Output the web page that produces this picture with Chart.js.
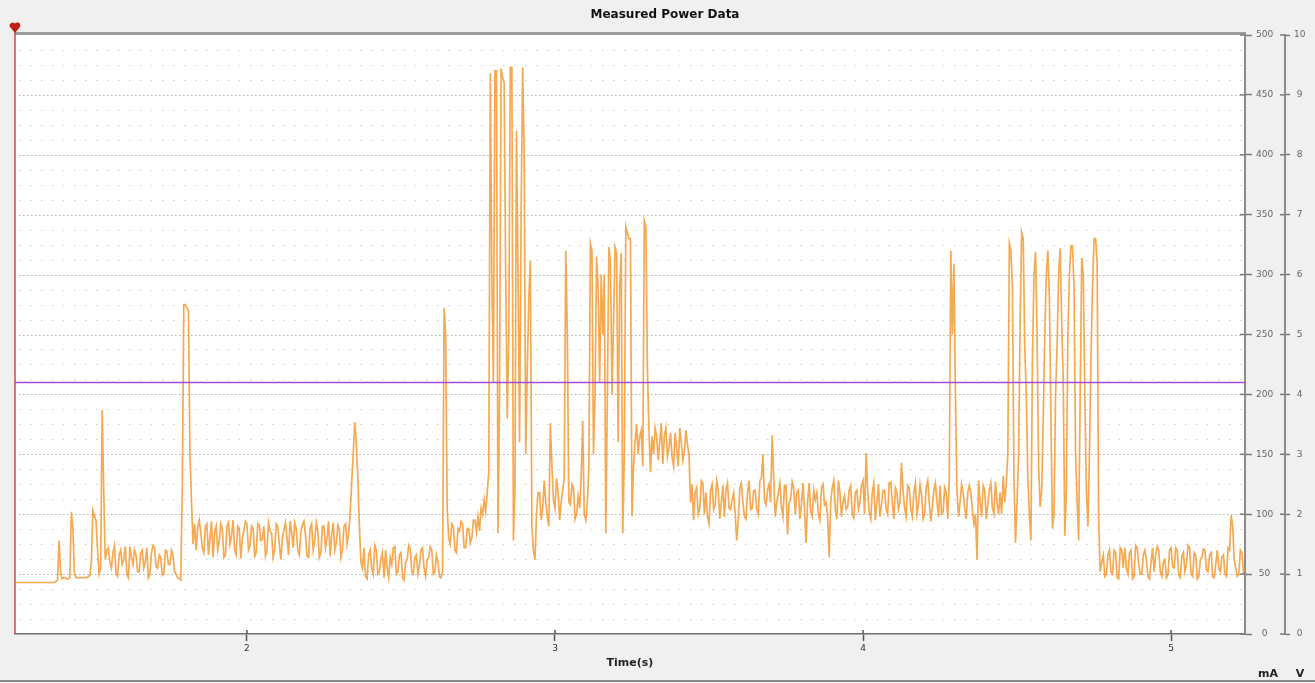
<!DOCTYPE html>
<html><head><meta charset="utf-8">
<script src="https://cdn.jsdelivr.net/npm/chart.js@4.4.0/dist/chart.umd.min.js"></script>
<style>html,body{margin:0;padding:0;background:#f0f0f0;overflow:hidden}#wrap{width:1315px;height:683px}</style>
</head><body><div id="wrap"><canvas id="c" width="1315" height="683"></canvas></div>
<script>
// ---- data ----
const sampleStart = 1.25;   // s, time of the first sample
const sampleStep = 0.005;   // s, sampling interval of the logger
const currentMA = [
43,43,43,43,43,43,43,43,43,43,43,43,43,43,43,43,43,43,43,43,
43,43,43,43,43,43,44,45,78,52,46,47,47,46,46,47,102,88,50,47,
47,47,47,47,47,47,47,48,49,60,103,98,95,70,50,55,187,120,62,70,
72,60,55,68,74,50,48,66,70,58,62,73,50,47,73,64,58,70,66,52,
52,68,70,55,60,72,47,50,68,74,72,56,55,66,64,49,50,70,69,58,
58,70,66,52,50,47,46,45,120,275,275,272,270,150,110,75,92,70,88,95,
85,72,68,90,92,66,80,94,64,85,90,70,78,92,88,64,66,90,93,75,
82,95,70,66,90,88,63,80,86,94,92,70,74,90,88,65,68,92,91,78,
79,90,65,70,93,86,84,64,70,92,90,75,62,80,87,93,80,66,94,85,
72,93,88,70,66,85,91,94,83,65,64,88,92,70,78,93,86,64,68,90,
90,72,80,94,65,82,93,70,76,91,88,64,70,90,92,75,84,100,127,150,
177,160,130,90,60,55,72,48,46,66,70,55,50,74,70,50,52,63,68,47,
70,55,47,64,58,72,73,50,52,66,68,47,45,60,62,74,71,52,50,64,
66,50,57,70,72,55,48,62,64,73,70,50,52,66,60,48,47,52,272,250,
105,80,75,92,90,70,68,88,86,94,92,72,72,88,88,76,80,95,95,85,
98,86,105,100,112,102,118,135,468,300,210,470,470,84,200,472,465,460,300,180,
250,473,473,78,120,420,300,160,350,473,400,150,220,280,312,90,70,62,100,118,
118,95,105,128,110,98,90,176,140,112,105,130,118,95,110,120,130,320,250,110,
108,125,122,96,100,115,105,130,178,100,95,110,140,326,320,150,200,315,290,210,
300,250,300,84,200,323,310,200,260,323,318,160,290,318,84,150,340,335,330,330,
98,140,160,175,150,165,170,140,345,340,223,170,135,165,150,172,165,145,160,176,
142,165,172,148,155,168,148,140,168,155,140,172,160,145,152,170,158,150,110,125,
95,118,122,100,105,128,126,100,118,98,92,120,125,104,108,128,120,96,110,124,
98,120,126,105,104,112,118,100,78,95,122,126,110,98,96,118,128,104,105,120,
120,104,100,128,130,150,112,108,120,125,110,166,130,98,110,118,126,106,98,124,
124,83,110,112,127,122,100,118,120,96,108,126,104,76,110,126,102,98,120,112,
118,100,95,122,125,108,110,98,64,110,122,128,104,96,128,118,98,110,115,104,
106,120,124,100,97,118,120,104,110,124,128,100,151,120,102,96,118,126,95,110,
125,98,108,120,120,104,100,126,127,110,96,122,118,104,110,143,120,105,98,124,
122,104,98,118,126,100,108,125,116,96,100,122,128,110,94,106,120,126,110,98,
124,100,102,122,118,96,130,320,250,309,200,120,98,110,125,118,105,96,118,124,
118,104,92,100,62,128,110,98,124,120,96,108,120,126,105,100,127,110,100,118,
100,132,110,125,150,326,320,290,130,76,110,150,260,335,330,240,200,130,100,78,
230,300,319,250,140,106,120,180,250,300,320,280,180,88,100,200,240,300,322,260,
210,82,120,250,300,324,324,290,150,110,78,200,314,300,200,120,90,150,230,290,
330,330,310,95,52,60,66,48,50,66,70,52,50,70,68,47,46,72,70,55,
72,55,50,68,70,46,48,74,72,58,50,50,66,70,62,48,46,60,72,52,
66,73,70,52,48,60,62,47,50,70,72,56,55,72,70,49,47,65,68,52,
58,74,72,50,48,68,66,46,48,62,64,71,70,53,52,66,68,48,47,58,
70,55,52,64,66,50,48,72,70,99,90,62,55,48,50,70,68,52,55,60
];
const thresholdTimes = [1.247, 5.24];
const thresholdMA = [210, 210];
const timeRange = [1.247, 5.24];
const xTicks = [2, 3, 4, 5];
const mATicks = [0, 50, 100, 150, 200, 250, 300, 350, 400, 450, 500];
const vTicks = [0, 1, 2, 3, 4, 5, 6, 7, 8, 9, 10];
const minorGridStep = 12.5; // mA
const cursorTime = 1.247;

const FONT = "'DejaVu Sans', Verdana, sans-serif";

const currentPoints = currentMA.map((v, i) => ({x: sampleStart + i * sampleStep, y: v}));
const thresholdPoints = thresholdTimes.map((t, i) => ({x: t, y: thresholdMA[i]}));

const decor = {
  id: 'decor',
  beforeDraw(chart) {
    const {ctx, chartArea: a} = chart;
    ctx.save();
    ctx.fillStyle = '#f0f0f0';
    ctx.fillRect(0, 0, chart.width, chart.height);
    ctx.fillStyle = '#ffffff';
    ctx.fillRect(a.left, a.top, a.right - a.left, a.bottom - a.top);
    ctx.restore();
  },
  beforeDatasetsDraw(chart) {
    const {ctx, chartArea: a} = chart;
    const ys = chart.scales.mA;
    ctx.save();
    ctx.lineWidth = 1;
    for (let v = minorGridStep; v < ys.max; v += minorGridStep) {
      const y = Math.round(ys.getPixelForValue(v)) + 0.5;
      const major = Math.abs(v % 50) < 1e-6;
      ctx.strokeStyle = major ? '#b2b2b2' : '#d0d0d0';
      ctx.setLineDash(major ? [1.6, 2.4] : [1.5, 9.5]);
      ctx.beginPath();
      ctx.moveTo(a.left + 4, y);
      ctx.lineTo(a.right - 2, y);
      ctx.stroke();
    }
    ctx.restore();
  },
  afterDraw(chart) {
    const {ctx, chartArea: a, scales} = chart;
    ctx.save();
    // top frame
    ctx.strokeStyle = '#9c9c9c';
    ctx.lineWidth = 3;
    ctx.beginPath(); ctx.moveTo(a.left, a.top - 1.5); ctx.lineTo(a.right + 1, a.top - 1.5); ctx.stroke();
    // inner halves of tick marks
    ctx.lineWidth = 1.5;
    ctx.strokeStyle = '#7a7a7a';
    mATicks.forEach(v => {
      const y = scales.mA.getPixelForValue(v);
      ctx.beginPath(); ctx.moveTo(a.right - 5, y); ctx.lineTo(a.right, y); ctx.stroke();
    });
    const vx = scales.V.left;
    vTicks.forEach(v => {
      const y = scales.V.getPixelForValue(v);
      ctx.beginPath(); ctx.moveTo(vx - 5, y); ctx.lineTo(vx, y); ctx.stroke();
    });
    ctx.strokeStyle = '#555';
    xTicks.forEach(v => {
      const x = scales.x.getPixelForValue(v);
      ctx.beginPath(); ctx.moveTo(x, a.bottom - 4); ctx.lineTo(x, a.bottom); ctx.stroke();
    });
    // cursor line and marker
    const cx = scales.x.getPixelForValue(cursorTime);
    ctx.strokeStyle = '#d04a4a';
    ctx.lineWidth = 1.5;
    ctx.beginPath(); ctx.moveTo(cx, a.top - 6); ctx.lineTo(cx, a.bottom); ctx.stroke();
    ctx.fillStyle = '#c21f1a';
    ctx.beginPath();
    ctx.arc(cx - 2.4, a.top - 9.5, 2.9, Math.PI * 0.8, Math.PI * 2);
    ctx.arc(cx + 2.4, a.top - 9.5, 2.9, Math.PI, Math.PI * 0.2);
    ctx.lineTo(cx, a.top - 2);
    ctx.closePath();
    ctx.fill();
    // unit captions
    ctx.fillStyle = '#222';
    ctx.font = "bold 11px " + FONT;
    ctx.textAlign = 'center';
    ctx.textBaseline = 'middle';
    ctx.fillText('mA', 1268, 674);
    ctx.fillText('V', 1300, 674);
    // bottom frame line
    ctx.strokeStyle = '#8a8a8a';
    ctx.lineWidth = 2;
    ctx.beginPath(); ctx.moveTo(0, 681); ctx.lineTo(chart.width, 681); ctx.stroke();
    ctx.restore();
  }
};

new Chart(document.getElementById('c'), {
  type: 'line',
  data: {
    datasets: [
      {
        label: 'Threshold',
        data: thresholdPoints,
        borderColor: '#a54bd6',
        borderWidth: 1.5,
        pointRadius: 0,
        yAxisID: 'mA',
        order: 0
      },
      {
        label: 'Current',
        data: currentPoints,
        borderColor: 'rgba(242,148,38,0.8)',
        borderWidth: 1.7,
        pointRadius: 0,
        tension: 0,
        yAxisID: 'mA',
        order: 1
      }
    ]
  },
  options: {
    responsive: false,
    animation: false,
    events: [],
    layout: {padding: {left: 15, right: 0, top: 0, bottom: 0}},
    plugins: {
      legend: {display: false},
      tooltip: {enabled: false},
      title: {
        display: true,
        text: 'Measured Power Data',
        color: '#111',
        font: {family: FONT, size: 12, weight: 'bold'},
        padding: {top: 8, bottom: 12.6}
      }
    },
    scales: {
      x: {
        type: 'linear',
        position: 'bottom',
        min: timeRange[0],
        max: timeRange[1],
        afterBuildTicks: s => { s.ticks = xTicks.map(v => ({value: v})); },
        afterFit: s => { s.height = 49; },
        grid: {drawOnChartArea: false, drawTicks: true, tickLength: 7, tickWidth: 1.5, color: '#555'},
        border: {display: true, color: '#6e6e6e', width: 1.5},
        ticks: {color: '#333', font: {family: FONT, size: 9}, padding: 2, maxRotation: 0},
        title: {display: true, text: 'Time(s)', color: '#222', font: {family: FONT, size: 11, weight: 'bold'}, padding: {top: 0, bottom: 12.8}}
      },
      mA: {
        type: 'linear',
        position: 'right',
        weight: 0,
        min: 0,
        max: 500,
        afterBuildTicks: s => { s.ticks = mATicks.map(v => ({value: v})); },
        afterFit: s => { s.width = 40; },
        grid: {drawOnChartArea: false, drawTicks: true, tickLength: 7, tickWidth: 1.5, color: '#7a7a7a'},
        border: {display: true, color: '#8c8c8c', width: 2},
        ticks: {color: '#666', font: {family: FONT, size: 9}, padding: 4, crossAlign: 'center'}
      },
      V: {
        type: 'linear',
        position: 'right',
        weight: 1,
        min: 0,
        max: 10,
        afterBuildTicks: s => { s.ticks = vTicks.map(v => ({value: v})); },
        afterFit: s => { s.width = 30; },
        grid: {drawOnChartArea: false, drawTicks: true, tickLength: 5, tickWidth: 1.5, color: '#7a7a7a'},
        border: {display: true, color: '#8c8c8c', width: 2},
        ticks: {color: '#666', font: {family: FONT, size: 9}, padding: 4, crossAlign: 'center'}
      }
    }
  },
  plugins: [decor]
});
</script>
</body></html>
